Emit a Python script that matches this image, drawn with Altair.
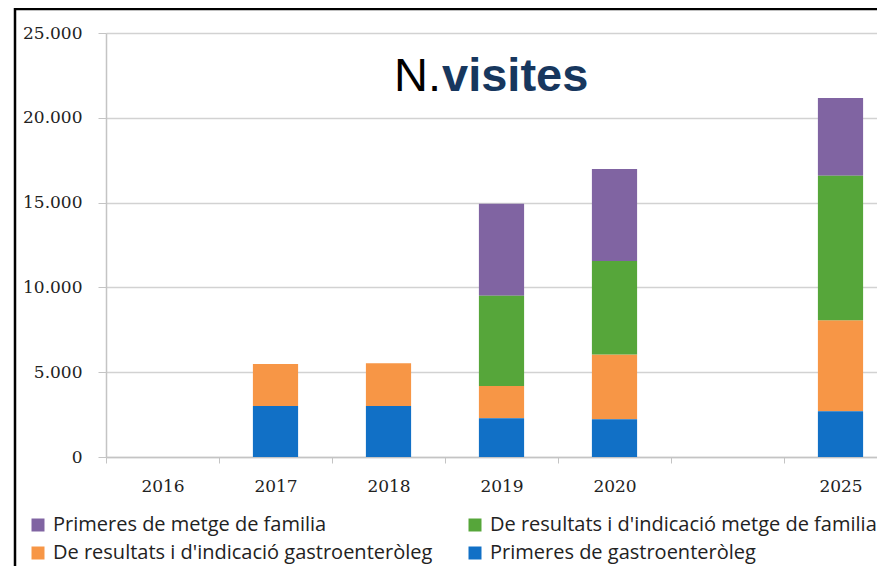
import altair as alt
import pandas as pd

# ---- data ----
years = ["2016", "2017", "2018", "2019", "2020", "gap", "2025"]
# legend is filled column by column: purple, orange | green, blue
series = [
    "Primeres de metge de familia",
    "De resultats i d'indicació gastroenteròleg",
    "De resultats i d'indicació metge de familia",
    "Primeres de gastroenteròleg",
]
colors = ["#8064a2", "#f79646", "#56a63a", "#1170c6"]
stack_pos = [3, 1, 2, 0]  # 0 = bottom of the stack

bar_years = ["2017", "2018", "2019", "2020", "2025"]
primeres_gastro = [3000, 3010, 2290, 2230, 2700]
resultats_gastro = [2480, 2520, 1890, 3820, 5360]
resultats_metge = [0, 0, 5330, 5510, 8520]
primeres_metge = [0, 0, 5420, 5420, 4590]

y_ticks = [0, 5000, 10000, 15000, 20000, 25000]
title_a = "N."
title_b = "visites"

# ---- long table ----
values_by_series = {
    series[0]: primeres_metge,
    series[1]: resultats_gastro,
    series[2]: resultats_metge,
    series[3]: primeres_gastro,
}
rows = []
for s, pos in zip(series, stack_pos):
    for yr, v in zip(bar_years, values_by_series[s]):
        if v > 0:
            rows.append({"year": yr, "serie": s, "value": v, "stack": pos})
df = pd.DataFrame(rows)

GRAY = "#c4c4c4"

bars = alt.Chart(df).mark_bar(width=alt.RelativeBandSize(0.4)).encode(
    x=alt.X(
        "year:N",
        scale=alt.Scale(domain=years, range=[0, 791], paddingInner=0, paddingOuter=0),
        axis=alt.Axis(
            title=None, labelAngle=0, grid=False, tickBand="extent",
            labelExpr="datum.value == 'gap' ? '' : datum.value",
            domainColor=GRAY, tickColor=GRAY, tickSize=6, domainWidth=1.5,
            labelFont="DejaVu Serif", labelFontSize=17, labelColor="#222222",
            labelPadding=15,
        ),
    ),
    y=alt.Y(
        "value:Q", stack="zero",
        scale=alt.Scale(domain=[0, 25000], nice=False),
        axis=alt.Axis(
            title=None, values=y_ticks,
            labelExpr="replace(format(datum.value, ','), ',', '.')",
            gridColor="#d2d2d2", gridWidth=1.5,
            domainColor=GRAY, tickColor=GRAY, tickSize=8, domainWidth=1.5,
            labelFont="DejaVu Serif", labelFontSize=17, labelColor="#222222",
            labelPadding=16,
        ),
    ),
    color=alt.Color(
        "serie:N",
        scale=alt.Scale(domain=series, range=colors),
        legend=alt.Legend(
            title=None, orient="none", legendX=-78, legendY=482, columns=2,
            symbolType="square", symbolSize=169, symbolStrokeWidth=0,
            labelFont="Open Sans", labelFontSize=20, labelColor="#222222",
            labelOffset=5, rowPadding=8, columnPadding=32, labelLimit=700,
            padding=0,
        ),
    ),
    order=alt.Order("stack:Q"),
)

one = pd.DataFrame({"t": [title_a]})
two = pd.DataFrame({"t": [title_b]})

t1 = alt.Chart(one).mark_text(
    font="Liberation Sans", fontSize=47, align="right", baseline="alphabetic", color="#000000"
).encode(text="t:N", x=alt.value(335), y=alt.value(58))
t2 = alt.Chart(two).mark_text(
    font="Liberation Sans", fontSize=47, fontWeight="bold", align="left",
    baseline="alphabetic", color="#17375e"
).encode(text="t:N", x=alt.value(336), y=alt.value(58))

frame_df = pd.DataFrame({"a": [0]})
left_line = alt.Chart(frame_df).mark_rule(color="#000000", strokeWidth=2.5).encode(
    x=alt.value(-91), y=alt.value(-25), y2=alt.value(546)
)
top_line = alt.Chart(frame_df).mark_rule(color="#000000", strokeWidth=2.5).encode(
    x=alt.value(-92), x2=alt.value(771), y=alt.value(-24), y2=alt.value(-24)
)

chart = alt.layer(bars, t1, t2, left_line, top_line).properties(
    width=771, height=424,
    autosize=alt.AutoSizeParams(type="none"),
    padding={"left": 98, "top": 25, "right": 0, "bottom": 109},
).configure_view(stroke=None)

chart.save("out.html", embed_options={"renderer": "svg", "actions": False})
